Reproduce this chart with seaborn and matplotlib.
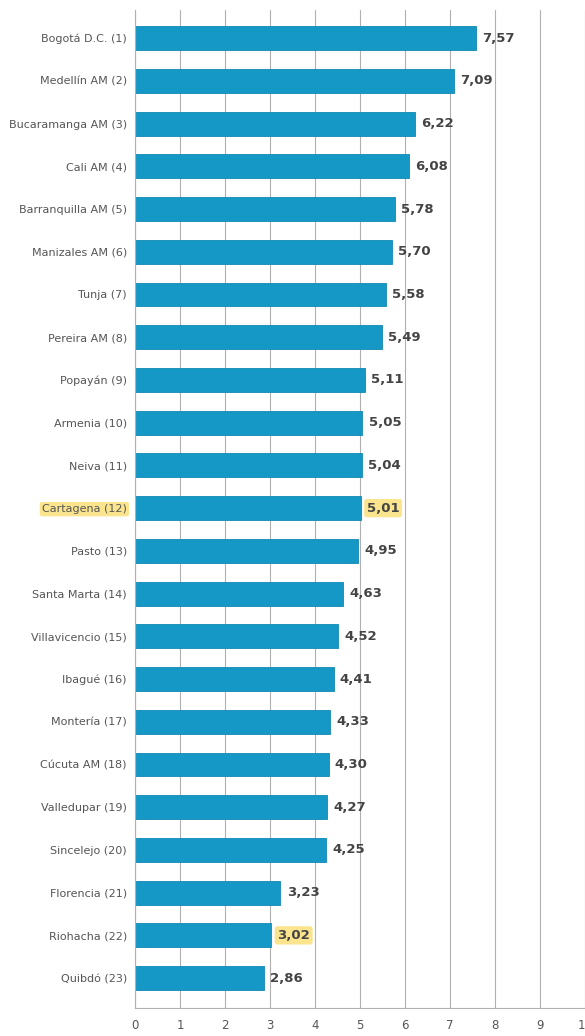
import pandas as pd
import seaborn as sns
import matplotlib.pyplot as plt

cities = ["Bogotá D.C. (1)", "Medellín AM (2)", "Bucaramanga AM (3)", "Cali AM (4)",
          "Barranquilla AM (5)", "Manizales AM (6)", "Tunja (7)", "Pereira AM (8)",
          "Popayán (9)", "Armenia (10)", "Neiva (11)", "Cartagena (12)", "Pasto (13)",
          "Santa Marta (14)", "Villavicencio (15)", "Ibagué (16)", "Montería (17)",
          "Cúcuta AM (18)", "Valledupar (19)", "Sincelejo (20)", "Florencia (21)",
          "Riohacha (22)", "Quibdó (23)"]
scores = [7.57, 7.09, 6.22, 6.08, 5.78, 5.70, 5.58, 5.49, 5.11, 5.05, 5.04, 5.01,
          4.95, 4.63, 4.52, 4.41, 4.33, 4.30, 4.27, 4.25, 3.23, 3.02, 2.86]
highlight_city = "Cartagena (12)"
highlight_values = ["Cartagena (12)", "Riohacha (22)"]

df = pd.DataFrame({"city": cities, "score": scores})

sns.set_style("white")
plt.rcParams["font.family"] = ["Liberation Sans Narrow", "DejaVu Sans"]

fig = plt.figure(figsize=(5.85, 10.36), dpi=100)
ax = fig.add_axes([0.231, 0.027, 0.769, 0.963])

sns.barplot(data=df, x="score", y="city", orient="h", color="#1598c6",
            saturation=1, width=0.56, edgecolor="#1189b5", linewidth=0.6, ax=ax)

ax.set_xlim(0, 10)
ax.set_ylim(22.7, -0.65)
ax.set_xticks(range(0, 11))
ax.xaxis.grid(True, color="#b0b0b0", linewidth=0.8)
ax.set_axisbelow(True)
for s in ["top", "right"]:
    ax.spines[s].set_visible(False)
for s in ["left", "bottom"]:
    ax.spines[s].set_color("#b0b0b0")
    ax.spines[s].set_linewidth(0.8)
ax.set_xlabel("")
ax.set_ylabel("")
ax.tick_params(axis="x", labelsize=8.5, colors="#555555", pad=8, length=0)
ax.tick_params(axis="y", labelsize=8, colors="#555555", pad=6, length=0)

for lbl in ax.get_yticklabels():
    if lbl.get_text() == highlight_city:
        lbl.set_bbox(dict(boxstyle="round,pad=0.2", facecolor="#fbe07a",
                          edgecolor="none", alpha=0.85))

for i, (c, v) in enumerate(zip(cities, scores)):
    txt = f"{v:.2f}".replace(".", ",")
    kw = {}
    if c in highlight_values:
        kw["bbox"] = dict(boxstyle="round,pad=0.2", facecolor="#fbe07a",
                          edgecolor="none", alpha=0.85)
    ax.text(v + 0.14, i, txt, va="center", ha="left", fontsize=9.5,
            color="#444444", fontweight="semibold", **kw)

fig.savefig("out.png", dpi=100)
